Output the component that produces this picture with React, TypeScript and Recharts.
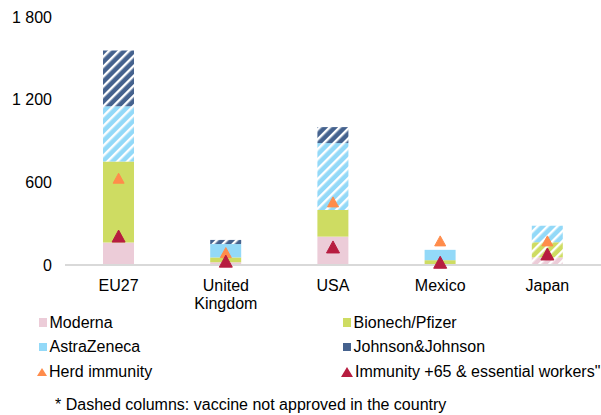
import { ComposedChart, Bar, Line, Cell, XAxis, YAxis } from 'recharts'

const countries = ['EU27', 'United Kingdom', 'USA', 'Mexico', 'Japan']
const moderna = [163, 20, 206, 0, 55]
const pfizer = [588, 35, 194, 35, 110]
const astra = [401, 97, 485, 75, 120]
const johnson = [405, 30, 116, 0, 0]
const herd = [630, 90, 458, 175, 175]
const immunity65 = [210, 28, 131, 20, 80]

// vaccine not approved in the country -> dashed column
const modernaPending = [false, false, false, false, true]
const pfizerPending = [false, false, false, false, true]
const astraPending = [true, false, true, false, true]
const johnsonPending = [true, true, true, false, false]

const yTicks = [0, 600, 1200, 1800]

const FONT = '"Liberation Sans", Arial, sans-serif'

const vaccines = [
  { key: 'moderna', name: 'Moderna', color: '#ECCCD8', pending: modernaPending },
  { key: 'pfizer', name: 'Bionech/Pfizer', color: '#CEDC62', pending: pfizerPending },
  { key: 'astra', name: 'AstraZeneca', color: '#93D9F8', pending: astraPending },
  { key: 'johnson', name: 'Johnson&Johnson', color: '#45628E', pending: johnsonPending },
]

const data = countries.map((country, i) => ({
  country,
  moderna: moderna[i],
  pfizer: pfizer[i],
  astra: astra[i],
  johnson: johnson[i],
  herd: herd[i],
  immunity65: immunity65[i],
}))

const triangle = (color: string, w: number, h: number) => (props: any) => {
  const { cx, cy, index } = props
  if (cx == null || cy == null) return <g key={index} />
  return (
    <path
      key={index}
      d={`M${cx},${cy - h / 2} L${cx + w / 2},${cy + h / 2} L${cx - w / 2},${cy + h / 2} Z`}
      fill={color}
      stroke={color}
      strokeWidth={1}
      strokeLinejoin="round"
    />
  )
}

const CountryTick = (props: any) => {
  const { x, y, payload } = props
  const lines = String(payload.value).split(' ')
  return (
    <text x={x} y={y} textAnchor="middle" fontSize={16} fontFamily={FONT} fill="#000">
      {lines.map((l, i) => (
        <tspan key={l} x={x} dy={i === 0 ? 25.5 : 18}>
          {l}
        </tspan>
      ))}
    </text>
  )
}

const legendItems = [
  { name: 'Moderna', color: '#ECCCD8', shape: 'square', col: 0, row: 0 },
  { name: 'Bionech/Pfizer', color: '#CEDC62', shape: 'square', col: 1, row: 0 },
  { name: 'AstraZeneca', color: '#93D9F8', shape: 'square', col: 0, row: 1 },
  { name: 'Johnson&Johnson', color: '#45628E', shape: 'square', col: 1, row: 1 },
  { name: 'Herd immunity', color: '#FF8C4B', shape: 'small', col: 0, row: 2 },
  { name: 'Immunity +65 & essential workers"', color: '#B71D40', shape: 'big', col: 1, row: 2 },
]

export default function App() {
  return (
    <div style={{ position: 'absolute', left: 0, top: 0, width: 601, height: 415, background: '#fff', fontFamily: FONT }}>
      <ComposedChart width={601} height={415} data={data} margin={{ top: 17, right: 0, bottom: 105, left: 0 }}>
        <defs>
          {vaccines.map(v => (
            <pattern
              key={v.key}
              id={`hatch-${v.key}`}
              width={7}
              height={7}
              patternUnits="userSpaceOnUse"
              patternTransform="rotate(45)"
            >
              <rect width={7} height={7} fill={v.color} />
              <rect width={2.4} height={7} fill="#fff" />
            </pattern>
          ))}
        </defs>
        <XAxis
          dataKey="country"
          axisLine={{ stroke: '#D9D9D9', strokeWidth: 2 }}
          tickLine={false}
          tickSize={0}
          tickMargin={0}
          height={45}
          interval={0}
          tick={<CountryTick />}
        />
        <YAxis
          width={65}
          domain={[0, 1800]}
          ticks={yTicks}
          axisLine={false}
          tickLine={false}
          tickSize={6}
          tickMargin={7}
          tick={{ fontSize: 16, fontFamily: FONT, fill: '#000' }}
          tickFormatter={(v: number) => String(v).replace(/\B(?=(\d{3})+(?!\d))/g, ' ')}
        />
        {vaccines.map(v => (
          <Bar key={v.key} dataKey={v.key} name={v.name} stackId="a" barSize={31} isAnimationActive={false}>
            {data.map((d, i) => (
              <Cell key={d.country} fill={v.pending[i] ? `url(#hatch-${v.key})` : v.color} />
            ))}
          </Bar>
        ))}
        <Line
          dataKey="herd"
          name="Herd immunity"
          stroke="none"
          isAnimationActive={false}
          activeDot={false}
          dot={triangle('#FF8C4B', 11, 10)}
        />
        <Line
          dataKey="immunity65"
          name='Immunity +65 & essential workers"'
          stroke="none"
          isAnimationActive={false}
          activeDot={false}
          dot={triangle('#B71D40', 13, 12)}
        />
      </ComposedChart>
      {legendItems.map(item => {
        const left = item.col === 0 ? 37 : 341
        const cy = 322.5 + item.row * 24.7
        return (
          <div
            key={item.name}
            style={{ position: 'absolute', left, top: cy - 10, height: 20, display: 'flex', alignItems: 'center', fontSize: 16, color: '#000', whiteSpace: 'nowrap' }}
          >
            {item.shape === 'square' ? (
              <span style={{ display: 'inline-block', width: 8.5, height: 8.5, background: item.color, marginLeft: 1.5, marginRight: 2.5 }} />
            ) : (
              <svg width={item.shape === 'big' ? 12 : 10} height={item.shape === 'big' ? 10 : 8} style={{ marginRight: 2 }}>
                {item.shape === 'big' ? (
                  <path d="M6,0 L12,10 L0,10 Z" fill={item.color} />
                ) : (
                  <path d="M5,0 L10,8 L0,8 Z" fill={item.color} />
                )}
              </svg>
            )}
            <span>{item.name}</span>
          </div>
        )
      })}
      <div style={{ position: 'absolute', left: 55, top: 395, height: 20, lineHeight: '20px', fontSize: 16, color: '#000', whiteSpace: 'nowrap' }}>
        * Dashed columns: vaccine not approved in the country
      </div>
    </div>
  )
}
